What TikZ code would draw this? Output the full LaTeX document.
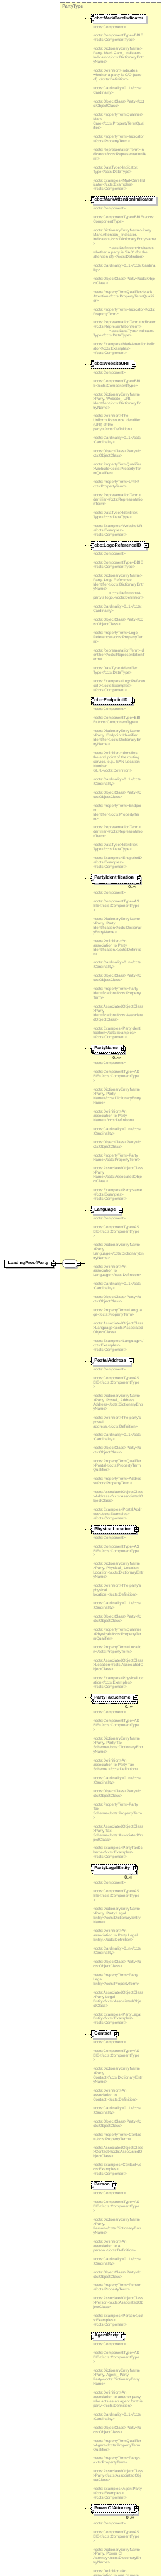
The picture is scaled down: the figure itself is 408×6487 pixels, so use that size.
\documentclass[tikz,border=0pt]{standalone}
\usepackage{fontspec}
\setmainfont{Liberation Sans}
\usetikzlibrary{positioning,shadows,arrows.meta}
\definecolor{typefill}{RGB}{255,255,196}
\definecolor{typeline}{RGB}{128,128,128}
\definecolor{notegray}{RGB}{145,145,145}
\definecolor{shade}{RGB}{192,192,192}
\newcommand{\gap}{\\[11.04pt]}
\newcommand{\sq}{\textquotesingle}

\begin{document}
\begin{tikzpicture}[x=1pt,y=-1pt]
    \tikzstyle{typebox} = [draw=typeline,fill=typefill,line width=1.2pt,dash pattern=on 10pt off 3.5pt]
    \tikzstyle{typename} = [anchor=west,inner sep=0pt,text=typeline,font=\fontsize{11}{12}\selectfont\bfseries]
    \tikzstyle{wire} = [dash pattern=on 2.5pt off 2pt]
    \tikzstyle{elem} = [draw,dash pattern=on 3pt off 2pt,fill=white,anchor=west,minimum height=20pt,inner xsep=0pt,inner ysep=0pt,text height=8.2pt,text depth=2.4pt,font=\fontsize{11.35}{12}\selectfont\bfseries,execute at begin node=\hspace*{8.6pt}]
    \tikzstyle{leaf} = [elem,drop shadow={shadow xshift=4pt,shadow yshift=-4pt,fill=shade,opacity=1},execute at end node=\hspace*{6.9pt}]
    \tikzstyle{branch} = [elem,drop shadow={shadow xshift=4pt,shadow yshift=-4pt,fill=shade,opacity=1},execute at end node=\hspace*{12.4pt}]
    \tikzstyle{many} = [elem,drop shadow={shadow xshift=7.5pt,shadow yshift=-7.5pt,fill=shade,opacity=1},copy shadow={shadow xshift=3.5pt,shadow yshift=-3.5pt,draw=black,fill=white,dash pattern=on 3pt off 2pt},execute at end node=\hspace*{12.4pt}]
    \tikzstyle{note} = [anchor=north west,inner sep=0pt,align=left,text=notegray,font=\fontsize{9.8}{11.04}\selectfont\frenchspacing,execute at begin node=\strut]
    \tikzstyle{card} = [anchor=east,inner sep=0pt,font=\fontsize{11}{12}\selectfont]
    \tikzstyle{plusbox} = [draw,solid,fill=white,minimum size=10pt,inner sep=0pt,path picture={\draw ([xshift=2pt]path picture bounding box.west) -- ([xshift=-2pt]path picture bounding box.east) ([yshift=-2pt]path picture bounding box.north) -- ([yshift=2pt]path picture bounding box.south);}]
    \tikzstyle{minusbox} = [draw,solid,fill=white,minimum size=10pt,inner sep=0pt,path picture={\draw ([xshift=2pt]path picture bounding box.west) -- ([xshift=-2pt]path picture bounding box.east);}]
    \tikzstyle{root} = [draw,fill=white,anchor=west,minimum height=20pt,inner xsep=0pt,inner ysep=0pt,text height=8.2pt,text depth=2.4pt,font=\fontsize{11.35}{12}\selectfont\bfseries,drop shadow={shadow xshift=4pt,shadow yshift=-4pt,fill=shade,opacity=1},execute at begin node=\hspace*{8.6pt},execute at end node=\hspace*{12.4pt}]
    \tikzstyle{seqframe} = [minimum width=37pt,minimum height=20pt,inner sep=0pt]
    \tikzstyle{seqshape} = [draw,fill=white,drop shadow={shadow xshift=4pt,shadow yshift=-4pt,fill=shade,opacity=1}]
      \useasboundingbox (0,0) rectangle (408,6487);
      \clip (0,0) rectangle (408,6487);
      \draw[typebox] (150.8,5.2) rectangle (406.5,6600);
      \node[typename] (partyType) at (157,17.9) {PartyType};
      \coordinate (spineTop) at (213.9,46.6);
      \coordinate (spineBot) at (213.9,6316.8);
      \draw[wire] (spineTop) -- (spineBot);
      \node[root] (loading) at (11,3181.7) {LoadingProofParty};
      \node[minusbox] (loadingMinus) at (loading.east) {};
      \node[seqframe] (sequence) at (176.2,3181.7) {};
      \draw[seqshape] ([xshift=6pt]sequence.north west) -- ([xshift=-6pt]sequence.north east) -- ([yshift=-6pt]sequence.north east) -- ([yshift=6pt]sequence.south east) -- ([xshift=-6pt]sequence.south east) -- ([xshift=6pt]sequence.south west) -- ([yshift=6pt]sequence.south west) -- ([yshift=-6pt]sequence.north west) -- cycle;
      \draw[line width=1pt] ([xshift=5pt]sequence.west) -- ([xshift=-6pt]sequence.east);
      \foreach \d in {-6,-1,4} \fill ([xshift=\d pt]sequence.center) +(-1.8pt,-1.3pt) rectangle +(1.8pt,1.3pt);
      \node[minusbox] (sequenceMinus) at (198.4,3181.7) {};
      \draw (loadingMinus) -- (sequence);
      \draw[wire] (sequenceMinus) -- (sequenceMinus -| spineTop);
      \node[leaf] (markCare) at (229.5,46.6) {cbc:MarkCareIndicator};
      \node[leaf] (markAttn) at (229.5,503.8) {cbc:MarkAttentionIndicator};
      \node[branch] (website) at (229.5,916.4) {cbc:WebsiteURI};
      \node[branch] (logo) at (229.5,1373.6) {cbc:LogoReferenceID};
      \node[branch] (endpoint) at (229.5,1764.5) {cbc:EndpointID};
      \node[many] (partyId) at (229.5,2210.6) {PartyIdentification};
      \node[many] (partyName) at (229.5,2640.2) {PartyName};
      \node[branch] (language) at (229.5,3046.6) {Language};
      \node[branch] (postal) at (229.5,3426.8) {PostalAddress};
      \node[branch] (physical) at (229.5,3850.8) {PhysicalLocation};
      \node[many] (taxScheme) at (229.5,4274.9) {PartyTaxScheme};
      \node[many] (legalEntity) at (229.5,4704.1) {PartyLegalEntity};
      \node[branch] (contact) at (229.5,5121.9) {Contact};
      \node[branch] (person) at (229.5,5501.8) {Person};
      \node[branch] (agent) at (229.5,5882.1) {AgentParty};
      \node[many] (attorney) at (229.5,6316.8) {PowerOfAttorney};
      \foreach \n in {markCare,markAttn,website,logo,endpoint,partyId,partyName,language,postal,physical,taxScheme,legalEntity,contact,person,agent,attorney} {
        \draw[wire] (\n.west -| spineTop) -- (\n.west);
        \draw[line width=0.9pt,-{Stealth[length=3pt,width=3.4pt]}] ([shift={(1.6,-1.2)}]\n.south west) -- ++(4.6,-4.6);
      }
      \foreach \n in {markCare,markAttn,website,logo,endpoint} \foreach \k in {1.3,3,4.7} \draw[line width=0.7pt] ([shift={(1,\k)}]\n.north west) -- ++(5.9,0);
      \foreach \n in {partyId,partyName,taxScheme,legalEntity,attorney} {
        \draw[fill=white] ([shift={(-12.8,13.5)}]\n.east) -- ++(3.5,3.5) -- ++(3.5,-3.5);
        \node[card] (\n-card) at ([shift={(-5.9,23.4)}]\n.east) {0..∞};
      }
      \foreach \n in {website,logo,endpoint,partyId,partyName,language,postal,physical,taxScheme,legalEntity,contact,person,agent,attorney} \node[plusbox] (\n-plus) at (\n.east) {};
      \node[note] (markCareNote) at (234.6,64.3) {<ccts:Component>\gap
<ccts:ComponentType>BBIE\\
</ccts:ComponentType>\gap
<ccts:DictionaryEntryName>\\
Party. Mark Care\_ Indicator.\\
Indicator</ccts:DictionaryEntr\\
yName>\gap
<ccts:Definition>Indicates\\
whether a party is C/O (care\\
of).</ccts:Definition>\gap
<ccts:Cardinality>0..1</ccts:\\
Cardinality>\gap
<ccts:ObjectClass>Party</cct\\
s:ObjectClass>\gap
<ccts:PropertyTermQualifier>\\
Mark\\
Care</ccts:PropertyTermQual\\
ifier>\gap
<ccts:PropertyTerm>Indicator\\
</ccts:PropertyTerm>\gap
<ccts:RepresentationTerm>In\\
dicator</ccts:RepresentationTe\\
rm>\gap
<ccts:DataType>Indicator.\\
Type</ccts:DataType>\gap
<ccts:Examples>MarkCareInd\\
icator</ccts:Examples>\\
</ccts:Component>};
      \node[note] (markAttnNote) at (234.6,521.5) {<ccts:Component>\gap
<ccts:ComponentType>BBIE</ccts:\\
ComponentType>\gap
<ccts:DictionaryEntryName>Party.\\
Mark Attention\_ Indicator.\\
Indicator</ccts:DictionaryEntryName\\
>\\
\hspace*{41pt}<ccts:Definition>Indicates\\
whether a party is \sq FAO\sq{} (for the\\
attention of).</ccts:Definition>\gap
<ccts:Cardinality>0..1</ccts:Cardina\\
lity>\gap
<ccts:ObjectClass>Party</ccts:Obje\\
ctClass>\gap
<ccts:PropertyTermQualifier>Mark\\
Attention</ccts:PropertyTermQualifi\\
er>\gap
<ccts:PropertyTerm>Indicator</ccts:\\
PropertyTerm>\gap
<ccts:RepresentationTerm>Indicator\\
</ccts:RepresentationTerm>\\
\hspace*{41pt}<ccts:DataType>Indicator.\\
Type</ccts:DataType>\gap
<ccts:Examples>MarkAttentionIndic\\
ator</ccts:Examples>\\
</ccts:Component>};
      \node[note] (websiteNote) at (234.6,934.1) {<ccts:Component>\gap
<ccts:ComponentType>BBI\\
E</ccts:ComponentType>\gap
<ccts:DictionaryEntryName\\
>Party. Website\_ URI.\\
Identifier</ccts:DictionaryEn\\
tryName>\gap
<ccts:Definition>The\\
Uniform Resource Identifier\\
(URI) of the\\
party.</ccts:Definition>\gap
<ccts:Cardinality>0..1</ccts\\
:Cardinality>\gap
<ccts:ObjectClass>Party</c\\
cts:ObjectClass>\gap
<ccts:PropertyTermQualifier\\
>Website</ccts:PropertyTer\\
mQualifier>\gap
<ccts:PropertyTerm>URI</\\
ccts:PropertyTerm>\gap
<ccts:RepresentationTerm>I\\
dentifier</ccts:Representatio\\
nTerm>\gap
<ccts:DataType>Identifier.\\
Type</ccts:DataType>\gap
<ccts:Examples>WebsiteURI\\
</ccts:Examples>\\
</ccts:Component>};
      \node[note] (logoNote) at (234.6,1391.3) {<ccts:Component>\gap
<ccts:ComponentType>BBIE\\
</ccts:ComponentType>\gap
<ccts:DictionaryEntryName>\\
Party. Logo Reference.\\
Identifier</ccts:DictionaryEntr\\
yName>\\
\hspace*{41pt}<ccts:Definition>A\\
party\sq s logo.</ccts:Definition>\gap
<ccts:Cardinality>0..1</ccts:\\
Cardinality>\gap
<ccts:ObjectClass>Party</cc\\
ts:ObjectClass>\gap
<ccts:PropertyTerm>Logo\\
Reference</ccts:PropertyTer\\
m>\gap
<ccts:RepresentationTerm>Id\\
entifier</ccts:RepresentationT\\
erm>\gap
<ccts:DataType>Identifier.\\
Type</ccts:DataType>\gap
<ccts:Examples>LogoReferen\\
ceID</ccts:Examples>\\
</ccts:Component>};
      \node[note] (endpointNote) at (234.6,1782.2) {<ccts:Component>\gap
<ccts:ComponentType>BBI\\
E</ccts:ComponentType>\gap
<ccts:DictionaryEntryName\\
>Party. Endpoint Identifier.\\
Identifier</ccts:DictionaryEn\\
tryName>\gap
<ccts:Definition>Identifies\\
the end point of the routing\\
service, e.g., EAN Location\\
Number,\\
GLN.</ccts:Definition>\gap
<ccts:Cardinality>0..1</ccts\\
:Cardinality>\gap
<ccts:ObjectClass>Party</c\\
cts:ObjectClass>\gap
<ccts:PropertyTerm>Endpoi\\
nt\\
Identifier</ccts:PropertyTer\\
m>\gap
<ccts:RepresentationTerm>I\\
dentifier</ccts:Representatio\\
nTerm>\gap
<ccts:DataType>Identifier.\\
Type</ccts:DataType>\gap
<ccts:Examples>EndpointID\\
</ccts:Examples>\\
</ccts:Component>};
      \node[note] (partyIdNote) at (234.6,2244.1) {<ccts:Component>\gap
<ccts:ComponentType>AS\\
BIE</ccts:ComponentType\\
>\gap
<ccts:DictionaryEntryName\\
>Party. Party\\
Identification</ccts:Dictionar\\
yEntryName>\gap
<ccts:Definition>An\\
association to Party\\
Identification.</ccts:Definitio\\
n>\gap
<ccts:Cardinality>0..n</ccts\\
:Cardinality>\gap
<ccts:ObjectClass>Party</c\\
cts:ObjectClass>\gap
<ccts:PropertyTerm>Party\\
Identification</ccts:Property\\
Term>\gap
<ccts:AssociatedObjectClass\\
>Party\\
Identification</ccts:Associate\\
dObjectClass>\gap
<ccts:Examples>PartyIdenti\\
fication</ccts:Examples>\\
</ccts:Component>};
      \node[note] (partyNameNote) at (234.6,2673.7) {<ccts:Component>\gap
<ccts:ComponentType>AS\\
BIE</ccts:ComponentType\\
>\gap
<ccts:DictionaryEntryName\\
>Party. Party\\
Name</ccts:DictionaryEntry\\
Name>\gap
<ccts:Definition>An\\
association to Party\\
Name.</ccts:Definition>\gap
<ccts:Cardinality>0..n</ccts\\
:Cardinality>\gap
<ccts:ObjectClass>Party</c\\
cts:ObjectClass>\gap
<ccts:PropertyTerm>Party\\
Name</ccts:PropertyTerm>\gap
<ccts:AssociatedObjectClass\\
>Party\\
Name</ccts:AssociatedObje\\
ctClass>\gap
<ccts:Examples>PartyName\\
</ccts:Examples>\\
</ccts:Component>};
      \node[note] (languageNote) at (234.6,3064.3) {<ccts:Component>\gap
<ccts:ComponentType>AS\\
BIE</ccts:ComponentType\\
>\gap
<ccts:DictionaryEntryName\\
>Party.\\
Language</ccts:DictionaryEn\\
tryName>\gap
<ccts:Definition>An\\
association to\\
Language.</ccts:Definition>\gap
<ccts:Cardinality>0..1</ccts\\
:Cardinality>\gap
<ccts:ObjectClass>Party</c\\
cts:ObjectClass>\gap
<ccts:PropertyTerm>Langua\\
ge</ccts:PropertyTerm>\gap
<ccts:AssociatedObjectClass\\
>Language</ccts:Associated\\
ObjectClass>\gap
<ccts:Examples>Language</\\
ccts:Examples>\\
</ccts:Component>};
      \node[note] (postalNote) at (234.6,3444.5) {<ccts:Component>\gap
<ccts:ComponentType>AS\\
BIE</ccts:ComponentType\\
>\gap
<ccts:DictionaryEntryName\\
>Party. Postal\_ Address.\\
Address</ccts:DictionaryEntr\\
yName>\gap
<ccts:Definition>The party\sq s\\
postal\\
address.</ccts:Definition>\gap
<ccts:Cardinality>0..1</ccts\\
:Cardinality>\gap
<ccts:ObjectClass>Party</c\\
cts:ObjectClass>\gap
<ccts:PropertyTermQualifier\\
>Postal</ccts:PropertyTerm\\
Qualifier>\gap
<ccts:PropertyTerm>Addres\\
s</ccts:PropertyTerm>\gap
<ccts:AssociatedObjectClass\\
>Address</ccts:AssociatedO\\
bjectClass>\gap
<ccts:Examples>PostalAddr\\
ess</ccts:Examples>\\
</ccts:Component>};
      \node[note] (physicalNote) at (234.6,3868.5) {<ccts:Component>\gap
<ccts:ComponentType>AS\\
BIE</ccts:ComponentType\\
>\gap
<ccts:DictionaryEntryName\\
>Party. Physical\_ Location.\\
Location</ccts:DictionaryEntr\\
yName>\gap
<ccts:Definition>The party\sq s\\
physical\\
location.</ccts:Definition>\gap
<ccts:Cardinality>0..1</ccts\\
:Cardinality>\gap
<ccts:ObjectClass>Party</c\\
cts:ObjectClass>\gap
<ccts:PropertyTermQualifier\\
>Physical</ccts:PropertyTer\\
mQualifier>\gap
<ccts:PropertyTerm>Locatio\\
n</ccts:PropertyTerm>\gap
<ccts:AssociatedObjectClass\\
>Location</ccts:AssociatedO\\
bjectClass>\gap
<ccts:Examples>PhysicalLoc\\
ation</ccts:Examples>\\
</ccts:Component>};
      \node[note] (taxSchemeNote) at (234.6,4308.4) {<ccts:Component>\gap
<ccts:ComponentType>AS\\
BIE</ccts:ComponentType\\
>\gap
<ccts:DictionaryEntryName\\
>Party. Party Tax\\
Scheme</ccts:DictionaryEntr\\
yName>\gap
<ccts:Definition>An\\
association to Party Tax\\
Scheme.</ccts:Definition>\gap
<ccts:Cardinality>0..n</ccts\\
:Cardinality>\gap
<ccts:ObjectClass>Party</c\\
cts:ObjectClass>\gap
<ccts:PropertyTerm>Party\\
Tax\\
Scheme</ccts:PropertyTerm\\
>\gap
<ccts:AssociatedObjectClass\\
>Party Tax\\
Scheme</ccts:AssociatedOb\\
jectClass>\gap
<ccts:Examples>PartyTaxSc\\
heme</ccts:Examples>\\
</ccts:Component>};
      \node[note] (legalEntityNote) at (234.6,4737.6) {<ccts:Component>\gap
<ccts:ComponentType>AS\\
BIE</ccts:ComponentType\\
>\gap
<ccts:DictionaryEntryName\\
>Party. Party Legal\\
Entity</ccts:DictionaryEntry\\
Name>\gap
<ccts:Definition>An\\
association to Party Legal\\
Entity.</ccts:Definition>\gap
<ccts:Cardinality>0..n</ccts\\
:Cardinality>\gap
<ccts:ObjectClass>Party</c\\
cts:ObjectClass>\gap
<ccts:PropertyTerm>Party\\
Legal\\
Entity</ccts:PropertyTerm>\gap
<ccts:AssociatedObjectClass\\
>Party Legal\\
Entity</ccts:AssociatedObje\\
ctClass>\gap
<ccts:Examples>PartyLegal\\
Entity</ccts:Examples>\\
</ccts:Component>};
      \node[note] (contactNote) at (234.6,5139.6) {<ccts:Component>\gap
<ccts:ComponentType>AS\\
BIE</ccts:ComponentType\\
>\gap
<ccts:DictionaryEntryName\\
>Party.\\
Contact</ccts:DictionaryEntr\\
yName>\gap
<ccts:Definition>An\\
association to\\
Contact.</ccts:Definition>\gap
<ccts:Cardinality>0..1</ccts\\
:Cardinality>\gap
<ccts:ObjectClass>Party</c\\
cts:ObjectClass>\gap
<ccts:PropertyTerm>Contac\\
t</ccts:PropertyTerm>\gap
<ccts:AssociatedObjectClass\\
>Contact</ccts:AssociatedO\\
bjectClass>\gap
<ccts:Examples>Contact</c\\
cts:Examples>\\
</ccts:Component>};
      \node[note] (personNote) at (234.6,5519.5) {<ccts:Component>\gap
<ccts:ComponentType>AS\\
BIE</ccts:ComponentType\\
>\gap
<ccts:DictionaryEntryName\\
>Party.\\
Person</ccts:DictionaryEntr\\
yName>\gap
<ccts:Definition>An\\
association to a\\
person.</ccts:Definition>\gap
<ccts:Cardinality>0..1</ccts\\
:Cardinality>\gap
<ccts:ObjectClass>Party</c\\
cts:ObjectClass>\gap
<ccts:PropertyTerm>Person\\
</ccts:PropertyTerm>\gap
<ccts:AssociatedObjectClass\\
>Person</ccts:AssociatedOb\\
jectClass>\gap
<ccts:Examples>Person</cct\\
s:Examples>\\
</ccts:Component>};
      \node[note] (agentNote) at (234.6,5899.8) {<ccts:Component>\gap
<ccts:ComponentType>AS\\
BIE</ccts:ComponentType\\
>\gap
<ccts:DictionaryEntryName\\
>Party. Agent\_ Party.\\
Party</ccts:DictionaryEntry\\
Name>\gap
<ccts:Definition>An\\
association to another party\\
who acts as an agent for this\\
party.</ccts:Definition>\gap
<ccts:Cardinality>0..1</ccts\\
:Cardinality>\gap
<ccts:ObjectClass>Party</c\\
cts:ObjectClass>\gap
<ccts:PropertyTermQualifier\\
>Agent</ccts:PropertyTerm\\
Qualifier>\gap
<ccts:PropertyTerm>Party<\\
/ccts:PropertyTerm>\gap
<ccts:AssociatedObjectClass\\
>Party</ccts:AssociatedObj\\
ectClass>\gap
<ccts:Examples>AgentParty\\
</ccts:Examples>\\
</ccts:Component>};
      \node[note] (attorneyNote) at (234.6,6350.3) {<ccts:Component>\gap
<ccts:ComponentType>AS\\
BIE</ccts:ComponentType\\
>\gap
<ccts:DictionaryEntryName\\
>Party. Power Of\\
Attorney</ccts:DictionaryEn\\
tryName>\gap
<ccts:Definition>An\\
association to one or more};
  \end{tikzpicture}
\end{document}
